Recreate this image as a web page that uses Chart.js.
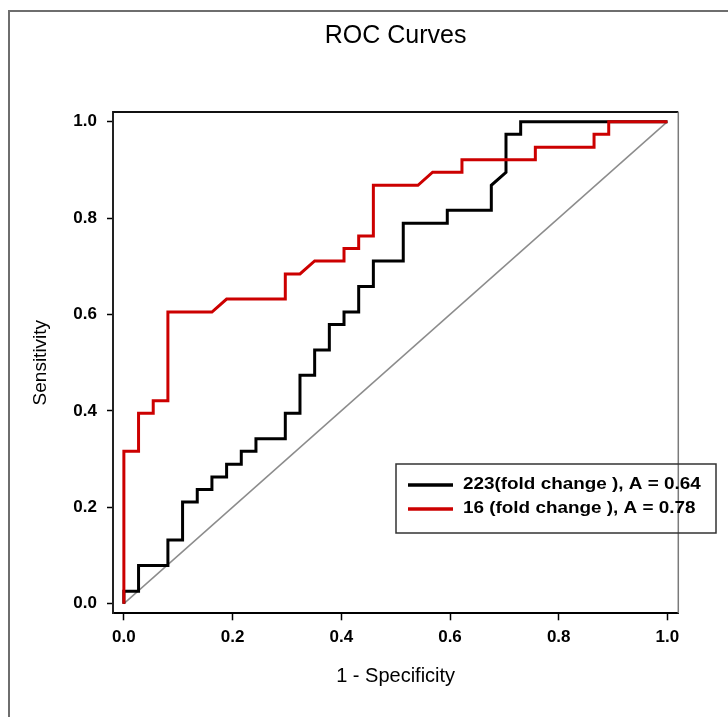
<!DOCTYPE html>
<html>
<head>
<meta charset="utf-8">
<title>ROC Curves</title>
<script src="https://cdn.jsdelivr.net/npm/chart.js@4.4.1/dist/chart.umd.min.js"></script>
<style>
  html, body { margin: 0; padding: 0; background: #fff; }
  #rocChart { display: block; }
</style>
</head>
<body>
<canvas id="rocChart" width="728" height="717"></canvas>
<script>
// ROC curve vertices: x = 1 - specificity, y = sensitivity
const fold223X = [0, 0, 0.027, 0.027, 0.081, 0.081, 0.108, 0.108, 0.135, 0.135, 0.162, 0.162, 0.189, 0.189,
  0.216, 0.216, 0.243, 0.243, 0.297, 0.297, 0.324, 0.324, 0.351, 0.351, 0.378, 0.378, 0.405, 0.405,
  0.432, 0.432, 0.459, 0.459, 0.514, 0.514, 0.595, 0.595, 0.676, 0.676, 0.703, 0.703, 0.730, 0.730, 1.0];
const fold223Y = [0, 0.026, 0.026, 0.079, 0.079, 0.132, 0.132, 0.211, 0.211, 0.237, 0.237, 0.263, 0.263, 0.289,
  0.289, 0.316, 0.316, 0.342, 0.342, 0.395, 0.395, 0.474, 0.474, 0.526, 0.526, 0.579, 0.579, 0.605,
  0.605, 0.658, 0.658, 0.711, 0.711, 0.789, 0.789, 0.816, 0.816, 0.868, 0.895, 0.974, 0.974, 1.0, 1.0];

const fold16X = [0, 0, 0.027, 0.027, 0.054, 0.054, 0.081, 0.081, 0.162, 0.189, 0.297, 0.297, 0.324, 0.351,
  0.405, 0.405, 0.432, 0.432, 0.459, 0.459, 0.541, 0.568, 0.622, 0.622, 0.757, 0.757, 0.865, 0.865,
  0.892, 0.892, 1.0];
const fold16Y = [0, 0.316, 0.316, 0.395, 0.395, 0.421, 0.421, 0.605, 0.605, 0.632, 0.632, 0.684, 0.684, 0.711,
  0.711, 0.737, 0.737, 0.763, 0.763, 0.868, 0.868, 0.895, 0.895, 0.921, 0.921, 0.947, 0.947, 0.974,
  0.974, 1.0, 1.0];

// chance line
const chanceX = [0, 1];
const chanceY = [0, 1];

const tickValues = [0, 0.2, 0.4, 0.6, 0.8, 1.0];
const seriesLabels = ['223(fold change ), A = 0.64', '16 (fold change ), A = 0.78'];

const FONT = "'Liberation Sans', Arial, sans-serif";

function toPoints(xs, ys) {
  return xs.map((x, i) => ({ x: x, y: ys[i] }));
}

// frame around the figure, box around the plot and the legend
const rocDecor = {
  id: 'rocDecor',
  beforeDraw(chart) {
    const ctx = chart.ctx;
    ctx.save();
    ctx.strokeStyle = '#6e6e6e';
    ctx.lineWidth = 2;
    ctx.beginPath();
    ctx.moveTo(9, 717);
    ctx.lineTo(9, 11);
    ctx.lineTo(728, 11);
    ctx.stroke();
    ctx.restore();
  },
  afterDraw(chart) {
    const ctx = chart.ctx;
    const a = chart.chartArea;
    ctx.save();
    // top and right edges of the plot box
    ctx.strokeStyle = '#111';
    ctx.lineWidth = 2;
    ctx.beginPath();
    ctx.moveTo(a.left, a.top);
    ctx.lineTo(a.right, a.top);
    ctx.stroke();
    ctx.strokeStyle = '#7a7a7a';
    ctx.lineWidth = 1.5;
    ctx.beginPath();
    ctx.moveTo(a.right, a.top);
    ctx.lineTo(a.right, a.bottom);
    ctx.stroke();

    // legend box
    ctx.strokeStyle = '#333';
    ctx.lineWidth = 1.5;
    ctx.strokeRect(396, 464, 320, 69);
    ctx.font = 'bold 16px ' + FONT;
    ctx.textBaseline = 'middle';
    ctx.textAlign = 'left';
    [0, 1].forEach((i, row) => {
      const ds = chart.data.datasets[i];
      const y = 485 + row * 24;
      ctx.strokeStyle = ds.borderColor;
      ctx.lineWidth = 3.5;
      ctx.beginPath();
      ctx.moveTo(408, y);
      ctx.lineTo(453, y);
      ctx.stroke();
      // the original lettering is a little wider than Arial
      ctx.save();
      ctx.translate(463, y);
      ctx.scale(1.18, 1);
      ctx.fillStyle = '#000';
      ctx.fillText(ds.label, 0, 0);
      ctx.restore();
    });
    ctx.restore();
  }
};

const ctx = document.getElementById('rocChart').getContext('2d');
const rocChart = new Chart(ctx, {
  type: 'scatter',
  data: {
    datasets: [
      {
        label: seriesLabels[0],
        data: toPoints(fold223X, fold223Y),
        showLine: true,
        borderColor: '#000000',
        borderWidth: 3,
        pointRadius: 0,
        tension: 0,
        order: 2
      },
      {
        label: seriesLabels[1],
        data: toPoints(fold16X, fold16Y),
        showLine: true,
        borderColor: '#cc0000',
        borderWidth: 3,
        pointRadius: 0,
        tension: 0,
        order: 1
      },
      {
        label: 'chance',
        data: toPoints(chanceX, chanceY),
        showLine: true,
        borderColor: '#8c8c8c',
        borderWidth: 1.5,
        pointRadius: 0,
        order: 3
      }
    ]
  },
  options: {
    responsive: false,
    animation: false,
    events: [],
    layout: { padding: { left: 0, right: 49.7, top: 0, bottom: 0 } },
    plugins: {
      legend: { display: false },
      tooltip: { enabled: false },
      title: {
        display: true,
        text: 'ROC Curves',
        fullSize: false,
        color: '#000',
        font: { family: FONT, size: 25, weight: 'normal' },
        padding: { top: 21, bottom: 61 }
      }
    },
    scales: {
      x: {
        type: 'linear',
        min: -0.02,
        max: 1.02,
        afterBuildTicks: s => { s.ticks = tickValues.map(v => ({ value: v })); },
        afterFit: s => { s.height = 103.7; },
        border: { color: '#000', width: 2 },
        grid: { drawOnChartArea: false, drawTicks: true, tickLength: 7, tickColor: '#000', tickWidth: 1.5 },
        ticks: {
          color: '#000',
          padding: 7,
          maxRotation: 0,
          font: { family: FONT, size: 17, weight: 'bold' },
          callback: v => Number(v).toFixed(1)
        },
        title: {
          display: true,
          text: '1 - Specificity',
          color: '#000',
          font: { family: FONT, size: 20, weight: 'normal' },
          padding: { top: 0, bottom: 28.5 }
        }
      },
      y: {
        type: 'linear',
        min: -0.02,
        max: 1.02,
        afterBuildTicks: s => { s.ticks = tickValues.map(v => ({ value: v })); },
        afterFit: s => { s.width = 113; },
        border: { color: '#222', width: 2 },
        grid: { drawOnChartArea: false, drawTicks: true, tickLength: 6, tickColor: '#000', tickWidth: 1.5 },
        ticks: {
          color: '#000',
          padding: 10,
          font: { family: FONT, size: 17, weight: 'bold' },
          callback: v => Number(v).toFixed(1)
        },
        title: {
          display: true,
          text: 'Sensitivity',
          color: '#000',
          font: { family: FONT, size: 19, weight: 'normal' },
          padding: { top: 29.6, bottom: 0 }
        }
      }
    }
  },
  plugins: [rocDecor]
});
</script>
</body>
</html>
